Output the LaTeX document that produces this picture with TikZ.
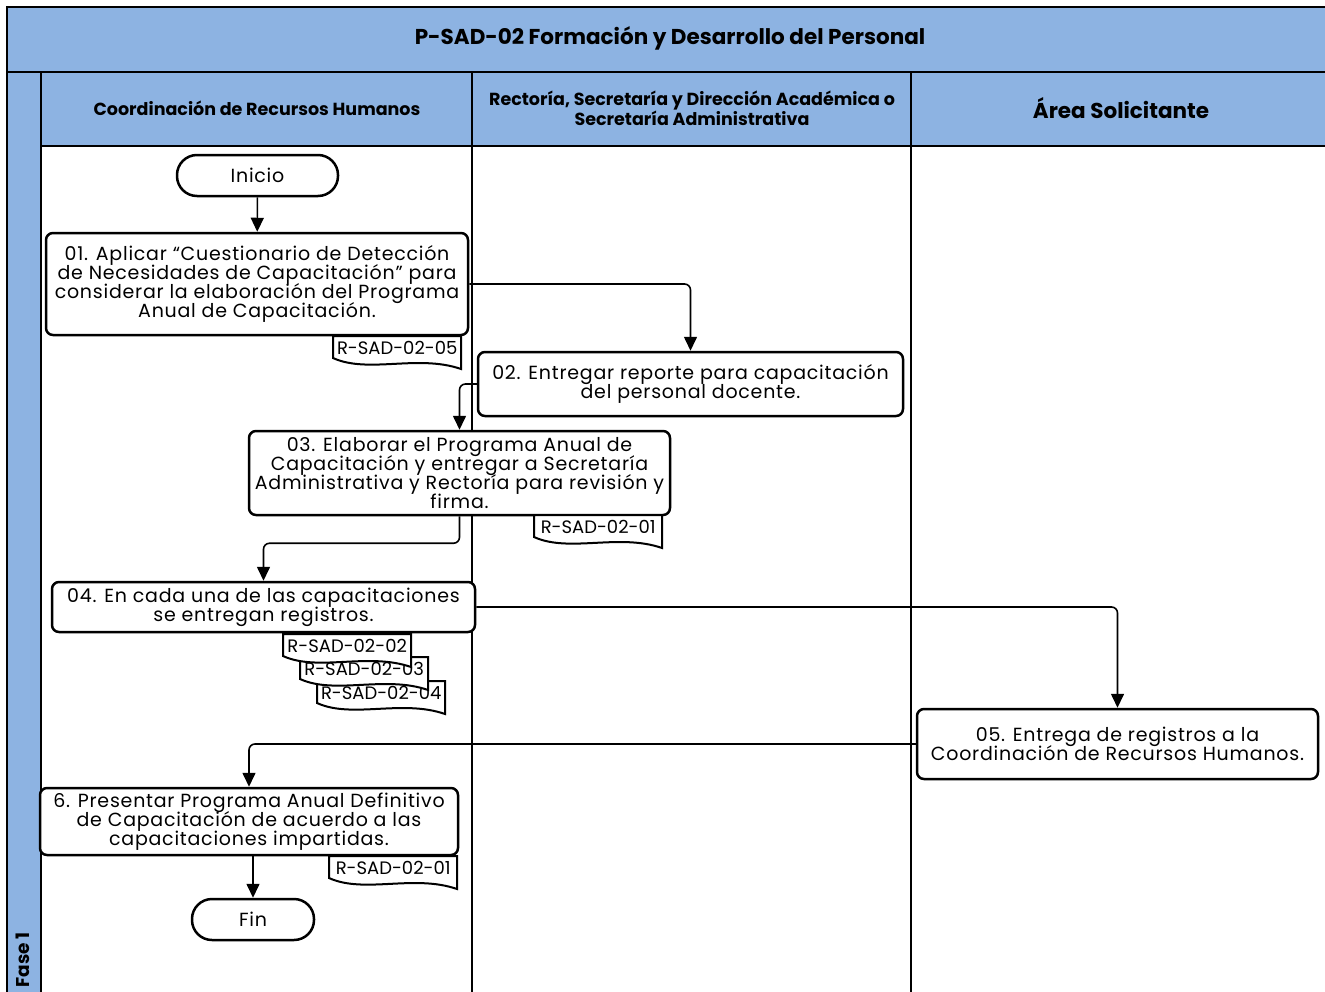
\documentclass[tikz,border=0pt]{standalone}
\usepackage{fontspec}
\setmainfont{Poppins}
\newfontfamily\bodyfont[LetterSpace=4]{Poppins}
\newcommand\bodyset{\bodyfont\fontsize{19}{19}\selectfont\lineskiplimit-20pt\relax}
\usetikzlibrary{arrows.meta,calc}
\definecolor{hdr}{RGB}{141,179,226}
\newcommand\mydoc[4]{%
  \draw[docline] (#2,#3+22) -- (#2,#3) -- (#2+128,#3) -- (#2+128,#3+33)
    .. controls (#2+85,#3+18) and (#2+35,#3+38) .. (#2,#3+22) -- cycle;
  \node[doctext, anchor=north west, minimum width=128pt] (#1) at (#2,#3) {#4};}
\begin{document}
\begin{tikzpicture}[x=1pt,y=-1pt,
  lane/.style={draw, line width=2.5pt},
  proc/.style={draw, line width=2.5pt, rounded corners=7pt, fill=white, align=center,
    inner sep=0pt, font=\bodyset},
  term/.style={draw, line width=2.5pt, rounded corners=20pt, fill=white, inner sep=0pt,
    minimum height=41pt, font=\bodyset},
  doctext/.style={inner sep=0pt, minimum height=24pt, font=\fontsize{18}{18}\selectfont},
  docline/.style={draw, line width=2pt, fill=white},
  flow/.style={line width=1.6pt, rounded corners=6pt, -{Triangle[length=14pt,width=13pt]}},
  hdrtext/.style={font=\bfseries\fontsize{17.5}{20}\selectfont, align=center},
]
\useasboundingbox (0,0) rectangle (1325,991);
% pool
\fill[hdr] (7,7) rectangle (1335,146);
\fill[hdr] (7,146) rectangle (41,1000);
\draw[lane] (7,1000) -- (7,7) -- (1335,7);
\draw[lane] (7,72) -- (1335,72);
\draw[lane] (41,146) -- (1335,146);
\draw[lane] (41,72) -- (41,1000);
\draw[lane] (472,72) -- (472,1000);
\draw[lane] (911,72) -- (911,1000);
\node[font=\bfseries\fontsize{21.5}{24}\selectfont] (title) at (670,38) {P-SAD-02 Formación y Desarrollo del Personal};
\node[hdrtext] (h1) at (257,108) {Coordinación de Recursos Humanos};
\node[hdrtext] (h2) at (692,108) {Rectoría, Secretaría y Dirección Académica o\\Secretaría Administrativa};
\node[font=\bfseries\fontsize{21.5}{24}\selectfont] (h3) at (1121,108) {Área Solicitante};
\node[font=\bfseries\fontsize{18.5}{20}\selectfont, rotate=90] (fase) at (23,960) {Fase 1};
% nodes
\node[term, minimum width=161pt] (ini) at (257.5,175.5) {Inicio};
\node[proc, minimum width=422pt, minimum height=102pt] (p1) at (257,284)
  {01. Aplicar “Cuestionario de Detección\\de Necesidades de Capacitación” para\\considerar la elaboración del Programa\\Anual de Capacitación.};
\mydoc{d1}{333}{336}{R-SAD-02-05}
\node[proc, minimum width=425pt, minimum height=64pt] (p2) at (690.5,384)
  {02. Entregar reporte para capacitación\\del personal docente.};
\node[proc, minimum width=421pt, minimum height=84pt] (p3) at (459.5,473)
  {03. Elaborar el Programa Anual de\\Capacitación y entregar a Secretaría\\Administrativa y Rectoría para revisión y\\firma.};
\mydoc{d3}{534}{515}{R-SAD-02-01}
\node[proc, minimum width=423pt, minimum height=50pt] (p4) at (263.5,607)
  {04. En cada una de las capacitaciones\\se entregan registros.};
\mydoc{d4c}{317}{681}{R-SAD-02-04}
\mydoc{d4b}{300}{657}{R-SAD-02-03}
\mydoc{d4a}{283}{634}{R-SAD-02-02}
\node[proc, minimum width=401pt, minimum height=70pt] (p5) at (1117.5,744)
  {05. Entrega de registros a la\\Coordinación de Recursos Humanos.};
\node[proc, minimum width=418pt, minimum height=67pt] (p6) at (249,821.5)
  {6. Presentar Programa Anual Definitivo\\de Capacitación de acuerdo a las\\capacitaciones impartidas.};
\mydoc{d6}{329}{856}{R-SAD-02-01}
\node[term, minimum width=122pt] (fin) at (253,919.5) {Fin};
% connectors
\draw[flow] (ini) -- (p1);
\draw[flow] (p1.east) -| (p2.north);
\draw[flow] (p2.west) -| (p3.north);
\draw[flow] (p3.south) -- ++(0,27) -| (p4.north);
\draw[flow] (p4.east) -| (p5.north);
\draw[flow] (p5.west) -| (p6.north);
\draw[flow] (p6.south -| fin.north) -- (fin.north);
\end{tikzpicture}
\end{document}
